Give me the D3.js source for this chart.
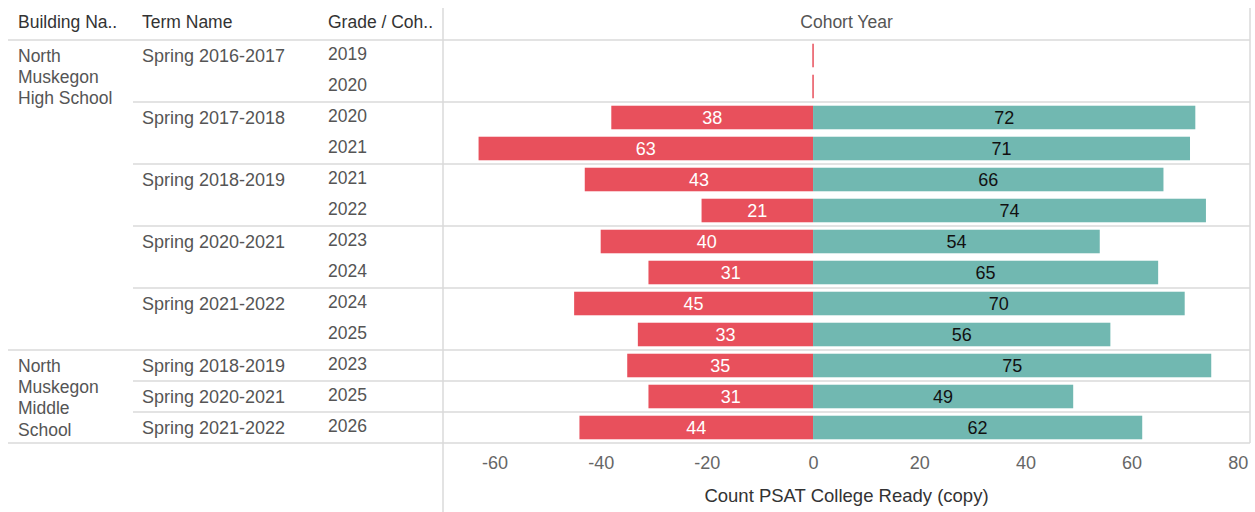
<!DOCTYPE html>
<html>
<head>
<meta charset="utf-8">
<script src="https://cdn.jsdelivr.net/npm/d3@7"></script>
<style>
  body { margin: 0; background: #fff; }
  svg text { font-family: "Liberation Sans", Arial, sans-serif; }
</style>
</head>
<body>
<script>
var width = 1255, height = 512;

// one entry per row
var buildings = ["North Muskegon High School","North Muskegon High School","North Muskegon High School","North Muskegon High School",
  "North Muskegon High School","North Muskegon High School","North Muskegon High School","North Muskegon High School",
  "North Muskegon High School","North Muskegon High School",
  "North Muskegon Middle School","North Muskegon Middle School","North Muskegon Middle School"]
var terms = ["Spring 2016-2017","Spring 2016-2017","Spring 2017-2018","Spring 2017-2018","Spring 2018-2019","Spring 2018-2019",
  "Spring 2020-2021","Spring 2020-2021","Spring 2021-2022","Spring 2021-2022",
  "Spring 2018-2019","Spring 2020-2021","Spring 2021-2022"]
var grades = ["2019","2020","2020","2021","2021","2022","2023","2024","2024","2025","2023","2025","2026"]
var notReady = [0,0,38,63,43,21,40,31,45,33,35,31,44]
var ready = [0,0,72,71,66,74,54,65,70,56,75,49,62]
var xTicks = [-60,-40,-20,0,20,40,60,80]

var headers = ["Building Na..","Term Name","Grade / Coh.."]
var colX = [18,142,328]

var red = "#e8505c", teal = "#71b8b1", gridC = "#dadada";
var plotL = 443, plotR = 1250, plotT = 40, plotB = 443;
var fs = 18

var svg = d3.select("body").append("svg").attr("width",width).attr("height",height)

var idx = d3.range(grades.length)
var y = d3.scaleBand().domain(idx).range([plotT,plotB]).paddingInner(0.24).paddingOuter(0.12)
var x = d3.scaleLinear().domain([-69.7,82.3]).range([plotL,plotR])
var step = y.step()

// headers
svg.selectAll(".hdr").data(headers).enter().append("text")
  .attr("x",function(d,i){return colX[i]}).attr("y",22).attr("dy","0.35em")
  .attr("font-size",fs-0.5).attr("fill","#333").text(function(d){return d})
svg.append("text").attr("x",(plotL+plotR)/2).attr("y",22).attr("dy","0.35em")
  .attr("text-anchor","middle").attr("font-size",fs-0.5).attr("fill","#555").text("Cohort Year")

// grid lines
var lines = [{y:plotT,x1:8},{y:plotB,x1:8}]
idx.forEach(function(i){
  if(i==0) return
  if(buildings[i]!=buildings[i-1]) lines.push({y:plotT+i*step,x1:8})
  else if(terms[i]!=terms[i-1]) lines.push({y:plotT+i*step,x1:133})
})
svg.selectAll(".hl").data(lines).enter().append("line")
  .attr("x1",function(d){return d.x1}).attr("x2",plotR)
  .attr("y1",function(d){return d.y}).attr("y2",function(d){return d.y})
  .attr("stroke",gridC).attr("stroke-width",1.5)
svg.append("line").attr("x1",plotL).attr("x2",plotL).attr("y1",8).attr("y2",height).attr("stroke",gridC).attr("stroke-width",1.5)
svg.append("line").attr("x1",plotR).attr("x2",plotR).attr("y1",8).attr("y2",plotB).attr("stroke",gridC).attr("stroke-width",1.5)

// row labels
var txtC = "#555"
svg.selectAll(".grade").data(idx).enter().append("text")
  .attr("x",colX[2]).attr("y",function(i){return y(i)+y.bandwidth()/2-2}).attr("dy","0.35em")
  .attr("font-size",fs-0.5).attr("fill",txtC).text(function(i){return grades[i]})
var termRows = idx.filter(function(i){return i==0||terms[i]!=terms[i-1]||buildings[i]!=buildings[i-1]})
svg.selectAll(".term").data(termRows).enter().append("text")
  .attr("x",colX[1]).attr("y",function(i){return y(i)+y.bandwidth()/2})
  .attr("dy","0.35em").attr("font-size",fs).attr("fill",txtC).text(function(i){return terms[i]})
var bRows = idx.filter(function(i){return i==0||buildings[i]!=buildings[i-1]})
bRows.forEach(function(i){
  var t = svg.append("text").attr("x",colX[0]).attr("y",y(i)+y.bandwidth()/2)
    .attr("font-size",fs-0.5).attr("fill",txtC)
  var words = buildings[i].split(" "), line = []
  var ts = t.append("tspan").attr("x",colX[0]).attr("dy","0.35em")
  words.forEach(function(w){
    line.push(w); ts.text(line.join(" "))
    if(ts.node().getComputedTextLength()>105 && line.length>1){
      line.pop(); ts.text(line.join(" ")); line=[w]
      ts = t.append("tspan").attr("x",colX[0]).attr("dy","1.22em").text(w)
    }
  })
})

// bars
svg.selectAll(".neg").data(idx).enter().append("rect")
  .attr("x",function(i){return notReady[i]>0?x(-notReady[i]):x(0)-0.75})
  .attr("width",function(i){return notReady[i]>0?x(0)-x(-notReady[i]):1.5})
  .attr("y",function(i){return y(i)}).attr("height",y.bandwidth()).attr("fill",red)
svg.selectAll(".pos").data(idx).enter().append("rect")
  .attr("x",x(0)).attr("width",function(i){return x(ready[i])-x(0)})
  .attr("y",function(i){return y(i)}).attr("height",y.bandwidth()).attr("fill",teal)

svg.selectAll(".nl").data(idx.filter(function(i){return notReady[i]>0})).enter().append("text")
  .attr("x",function(i){return (x(-notReady[i])+x(0))/2}).attr("y",function(i){return y(i)+y.bandwidth()/2})
  .attr("dy","0.35em").attr("text-anchor","middle").attr("font-size",fs).attr("fill","#fff")
  .text(function(i){return notReady[i]})
svg.selectAll(".pl").data(idx.filter(function(i){return ready[i]>0})).enter().append("text")
  .attr("x",function(i){return (x(ready[i])+x(0))/2}).attr("y",function(i){return y(i)+y.bandwidth()/2})
  .attr("dy","0.35em").attr("text-anchor","middle").attr("font-size",fs).attr("fill","#111")
  .text(function(i){return ready[i]})

// axis
var ax = svg.append("g").attr("transform","translate(0,"+plotB+")")
  .call(d3.axisBottom(x).tickValues(xTicks).tickSize(0).tickPadding(13).tickFormat(function(d){return String(d)}))
ax.select(".domain").remove()
ax.selectAll("text").attr("font-size",fs).attr("fill","#666").attr("font-family","Liberation Sans, Arial, sans-serif")
svg.append("text").attr("x",(plotL+plotR)/2).attr("y",496).attr("dy","0.35em")
  .attr("text-anchor","middle").attr("font-size",fs+0.5).attr("fill","#333").text("Count PSAT College Ready (copy)")
</script>
</body>
</html>
